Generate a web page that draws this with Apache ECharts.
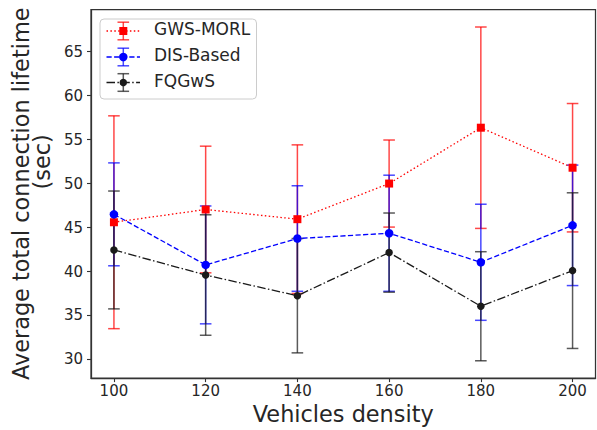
<!DOCTYPE html>
<html>
<head>
<meta charset="utf-8">
<script src="https://cdn.jsdelivr.net/npm/echarts@6/dist/echarts.min.js"></script>
<style>
html,body{margin:0;padding:0;background:#fff;}
#c{width:597px;height:430px;}
</style>
</head>
<body>
<div id="c"></div>
<script>
// ---- data ----
var densities = [100, 120, 140, 160, 180, 200];
var xTicks = [100, 120, 140, 160, 180, 200];
var yTicks = [30, 35, 40, 45, 50, 55, 60, 65];

var gwsMean = [45.6, 47.05, 45.95, 50.0, 56.35, 51.8];
var gwsErr  = [12.1, 7.2, 8.45, 4.95, 11.45, 7.3];
var disMean = [46.5, 40.75, 43.75, 44.35, 41.05, 45.25];
var disErr  = [5.85, 6.7, 6.0, 6.6, 6.6, 6.85];
var fqMean  = [42.45, 39.6, 37.25, 42.15, 36.05, 40.1];
var fqErr   = [6.7, 6.85, 6.5, 4.5, 6.2, 8.85];

var seriesNames = ['GWS-MORL', 'DIS-Based', 'FQGwS'];

// ---- styles ----
var FONT = '"DejaVu Sans", sans-serif';
var TXT = '#262626';
var RED = '#ff0000', BLUE = '#0000ff', BLACK = '#1a1a1a';
var dashRed = [1.5, 2.4];
var dashBlue = [5.2, 2.4];
var dashBlack = [8.5, 2.4, 1.5, 2.4];

function pts(means) { return densities.map(function (x, i) { return [x, means[i]]; }); }

function errSeries(name, color, means, errs) {
  return {
    type: 'custom', name: name + ' error', z: 1, silent: true,
    renderItem: function (params, api) {
      var x = api.value(0), lo = api.value(1), hi = api.value(2);
      var p1 = api.coord([x, lo]), p2 = api.coord([x, hi]);
      var hw = 5.8;
      var st = { stroke: color, lineWidth: 1.5, opacity: 0.72 };
      return { type: 'group', children: [
        { type: 'line', shape: { x1: p1[0], y1: p1[1], x2: p2[0], y2: p2[1] }, style: st },
        { type: 'line', shape: { x1: p1[0] - hw, y1: p1[1], x2: p1[0] + hw, y2: p1[1] }, style: st },
        { type: 'line', shape: { x1: p2[0] - hw, y1: p2[1], x2: p2[0] + hw, y2: p2[1] }, style: st }
      ]};
    },
    encode: { x: 0, y: [1, 2] },
    data: densities.map(function (x, i) { return [x, means[i] - errs[i], means[i] + errs[i]]; })
  };
}

function lineSeries(name, color, means, dash, symbol, size, z) {
  return {
    type: 'line', name: name, z: z, data: pts(means),
    symbol: symbol, symbolSize: size, showSymbol: true,
    lineStyle: { color: color, width: 1.3, type: dash },
    itemStyle: { color: color, borderWidth: 0 },
    emphasis: { disabled: true }, animation: false
  };
}

// ---- legend (graphic) ----
var legRows = [
  { name: seriesNames[0], color: RED, dash: dashRed, sym: 'rect', size: 8, y: 31 },
  { name: seriesNames[1], color: BLUE, dash: dashBlue, sym: 'circle', size: 8.5, y: 57 },
  { name: seriesNames[2], color: BLACK, dash: dashBlack, sym: 'circle', size: 7.5, y: 82.5 }
];
var graphics = [{
  type: 'rect', left: 99.5, top: 18.5, z: 50,
  shape: { width: 156.5, height: 80, r: 4 },
  style: { fill: 'rgba(255,255,255,0.85)', stroke: '#cccccc', lineWidth: 1 }
}];
legRows.forEach(function (r) {
  var cx = 123.3;
  graphics.push({ type: 'line', z: 51, shape: { x1: 106.5, y1: r.y, x2: 140, y2: r.y },
    style: { stroke: r.color, lineWidth: 1.3, lineDash: r.dash } });
  var st = { stroke: r.color, lineWidth: 1.5, opacity: 0.72 };
  graphics.push({ type: 'line', z: 51, shape: { x1: cx, y1: r.y - 8.8, x2: cx, y2: r.y + 8.8 }, style: st });
  graphics.push({ type: 'line', z: 51, shape: { x1: cx - 5.8, y1: r.y - 8.8, x2: cx + 5.8, y2: r.y - 8.8 }, style: st });
  graphics.push({ type: 'line', z: 51, shape: { x1: cx - 5.8, y1: r.y + 8.8, x2: cx + 5.8, y2: r.y + 8.8 }, style: st });
  if (r.sym === 'rect') {
    graphics.push({ type: 'rect', z: 52, shape: { x: cx - r.size / 2, y: r.y - r.size / 2, width: r.size, height: r.size },
      style: { fill: r.color } });
  } else {
    graphics.push({ type: 'circle', z: 52, shape: { cx: cx, cy: r.y, r: r.size / 2 }, style: { fill: r.color } });
  }
  graphics.push({ type: 'text', z: 52, left: 154, top: r.y - 10.5,
    style: { text: r.name, fill: TXT, font: '17px ' + FONT, textVerticalAlign: 'top' } });
});

var chart = echarts.init(document.getElementById('c'), null, { renderer: 'svg' });
chart.setOption({
  animation: false,
  backgroundColor: '#fff',
  textStyle: { fontFamily: FONT },
  grid: { left: 91, right: 1.5, top: 9.5, bottom: 51, show: true, borderColor: '#333', borderWidth: 1.25, backgroundColor: 'transparent' },
  xAxis: {
    type: 'value', min: 95, max: 205,
    name: 'Vehicles density', nameLocation: 'middle', nameGap: 21,
    nameTextStyle: { fontSize: 22.4, color: TXT, fontFamily: FONT },
    axisLine: { show: true, lineStyle: { color: '#333', width: 1.25 } },
    axisTick: { show: true, length: 4, customValues: xTicks, lineStyle: { color: '#333', width: 1.1 } },
    axisLabel: { customValues: xTicks, fontSize: 15, color: TXT, margin: 5, fontFamily: FONT },
    splitLine: { show: false }
  },
  yAxis: {
    type: 'value', min: 27.88, max: 69.79,
    name: 'Average total connection lifetime\n\u00a0\u00a0\u00a0\u00a0\u00a0\u00a0\u00a0\u00a0\u00a0(sec)',
    nameLocation: 'middle', nameGap: 37, nameRotate: 90,
    nameTextStyle: { fontSize: 22.4, lineHeight: 21, color: TXT, fontFamily: FONT },
    axisLine: { show: true, lineStyle: { color: '#333', width: 1.25 } },
    axisTick: { show: true, length: 4, customValues: yTicks, lineStyle: { color: '#333', width: 1.1 } },
    axisLabel: { customValues: yTicks, fontSize: 15, color: TXT, margin: 8, fontFamily: FONT },
    splitLine: { show: false }
  },
  graphic: graphics,
  series: [
    errSeries(seriesNames[0], RED, gwsMean, gwsErr),
    errSeries(seriesNames[1], BLUE, disMean, disErr),
    errSeries(seriesNames[2], BLACK, fqMean, fqErr),
    lineSeries(seriesNames[0], RED, gwsMean, dashRed, 'rect', 8, 3),
    lineSeries(seriesNames[1], BLUE, disMean, dashBlue, 'circle', 8.5, 4),
    lineSeries(seriesNames[2], BLACK, fqMean, dashBlack, 'circle', 7.5, 5)
  ]
});
</script>
</body>
</html>
